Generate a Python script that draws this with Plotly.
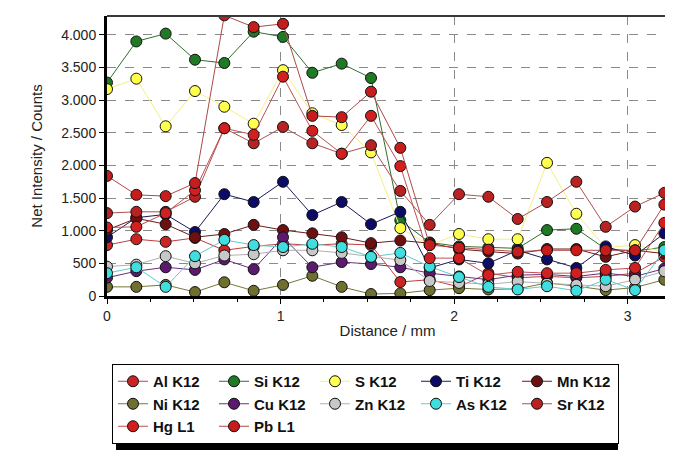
import plotly.graph_objects as go

step_mm = 0.169
positions = list(range(20))
distance = [round(k * step_mm, 3) for k in positions]

al_k12 = [780, 870, 830, 890, 700, 760, 800, 780, 800, 780, 215, 250, 140, 350, 280, 300, 280, 300, 350, 600]
si_k12 = [3270, 3900, 4020, 3620, 3570, 4050, 3970, 3420, 3560, 3340, 1160, 820, 760, 740, 730, 1010, 1030, 720, 690, 750]
s_k12 = [3170, 3330, 2600, 3140, 2900, 2640, 3460, 2800, 2620, 2200, 1040, 780, 950, 870, 870, 2040, 1260, 740, 780, 680]
ti_k12 = [900, 1200, 1250, 980, 1560, 1440, 1750, 1240, 1440, 1100, 1290, 430, 560, 500, 700, 560, 430, 760, 620, 960]
mn_k12 = [1010, 1190, 1100, 900, 950, 1090, 1010, 960, 900, 810, 850, 810, 720, 680, 650, 720, 720, 600, 700, 650]
ni_k12 = [140, 140, 170, 60, 210, 80, 170, 310, 140, 30, 40, 90, 120, 100, 110, 200, 150, 90, 130, 250]
cu_k12 = [280, 380, 440, 400, 560, 410, 900, 440, 520, 490, 440, 350, 300, 250, 320, 330, 300, 350, 300, 420]
zn_k12 = [450, 480, 610, 500, 620, 640, 700, 700, 660, 600, 550, 230, 200, 180, 220, 190, 170, 150, 250, 380]
as_k12 = [350, 440, 140, 610, 860, 780, 750, 800, 750, 600, 660, 450, 290, 140, 100, 150, 80, 250, 90, 700]
sr_k12 = [1270, 1290, 1290, 1520, 2570, 2340, 2590, 2340, 2180, 2310, 1610, 1090, 1560, 1520, 1180, 1440, 1750, 1060, 1370, 1580]
hg_l1 = [1050, 1060, 1270, 1620, 2570, 2470, 3360, 2530, 2180, 2760, 1990, 580, 580, 320, 370, 350, 350, 400, 430, 1120]
pb_l1 = [1840, 1550, 1530, 1730, 4300, 4120, 4170, 2760, 2740, 3130, 2270, 780, 740, 710, 680, 700, 700, 700, 700, 1400]

series = [
    ("Al K12", al_k12, "#cc2424", "#c04040"),
    ("Si K12", si_k12, "#1f7a24", "#2f6f2f"),
    ("S K12", s_k12, "#ffff50", "#f4f080"),
    ("Ti K12", ti_k12, "#0c0c66", "#1a1a5a"),
    ("Mn K12", mn_k12, "#6e1010", "#6e1a1a"),
    ("Ni K12", ni_k12, "#6f6f30", "#77773a"),
    ("Cu K12", cu_k12, "#5c1a6e", "#6a3080"),
    ("Zn K12", zn_k12, "#c8c8c8", "#b0b0b0"),
    ("As K12", as_k12, "#40dede", "#60cccc"),
    ("Sr K12", sr_k12, "#b82222", "#b05050"),
    ("Hg L1", hg_l1, "#d22020", "#c05050"),
    ("Pb L1", pb_l1, "#c61c1c", "#b04848"),
]

fig = go.Figure()
for name, vals, mcol, lcol in series:
    fig.add_trace(go.Scatter(
        x=distance, y=vals, name=name, mode="lines+markers",
        line=dict(color=lcol, width=1),
        marker=dict(symbol="circle", size=11, color=mcol,
                    line=dict(color="#111111", width=1)),
        cliponaxis=True,
    ))

# page body has an 8px margin; figure is sized to fit the 673x458 window
OFF = 8
W, H = 673 - OFF, 458 - OFF
ml, mr, mt, mb = 107 - OFF, 5, 16 - OFF, 162
pw, ph = W - ml - mr, H - mt - mb

def px(xw):
    return (xw - OFF - ml) / pw

def py(yw):
    return (H - mb - (yw - OFF)) / ph

shapes = [
    dict(type="line", xref="paper", yref="paper", x0=0, x1=1, y0=1, y1=1,
         line=dict(color="#3a3a3a", width=2)),
    dict(type="line", xref="paper", yref="paper", x0=1, x1=1, y0=0, y1=1,
         line=dict(color="#3a3a3a", width=2)),
    dict(type="rect", xref="paper", yref="paper",
         x0=px(116), x1=px(618), y0=py(450), y1=py(370),
         fillcolor="#000000", line=dict(width=0), layer="above"),
]

fig.update_layout(
    width=W, height=H,
    margin=dict(l=ml, r=mr, t=mt, b=mb, autoexpand=False),
    paper_bgcolor="white", plot_bgcolor="white",
    separators=",.",
    font=dict(family="Liberation Sans, Arial, sans-serif", size=15, color="#222222"),
    showlegend=True,
    legend=dict(
        orientation="h", x=px(112), y=py(364), xanchor="left", yanchor="top",
        bgcolor="white", bordercolor="#000000", borderwidth=1,
        font=dict(family="Liberation Sans, Arial, sans-serif", size=15, color="#111111", weight="bold"),
        entrywidth=56, entrywidthmode="pixels", itemwidth=30,
        tracegroupgap=0,
    ),
    shapes=shapes,
    xaxis=dict(
        range=[0, 3.232], dtick=1, tick0=0, automargin=False,
        showgrid=True, gridcolor="#8a8a8a", griddash="dash", gridwidth=1,
        showline=True, linecolor="#000000", linewidth=3,
        ticks="outside", ticklen=5, tickcolor="#000000",
        minor=dict(dtick=0.25, ticks="outside", ticklen=3, tickcolor="#000000", showgrid=False),
        zeroline=False,
        title=dict(text="Distance / mm", font=dict(size=15), standoff=3),
        tickfont=dict(size=14),
    ),
    yaxis=dict(
        range=[0, 4290], dtick=500, tick0=0, automargin=False,
        showgrid=True, gridcolor="#8a8a8a", griddash="dash", gridwidth=1,
        showline=True, linecolor="#000000", linewidth=3,
        ticks="outside", ticklen=5, tickcolor="#000000",
        separatethousands=True, tickformat=",d",
        zeroline=False,
        title=dict(text="Net Intensity / Counts", font=dict(size=15), standoff=15),
        tickfont=dict(size=14),
    ),
)

fig.write_html("out.html")
